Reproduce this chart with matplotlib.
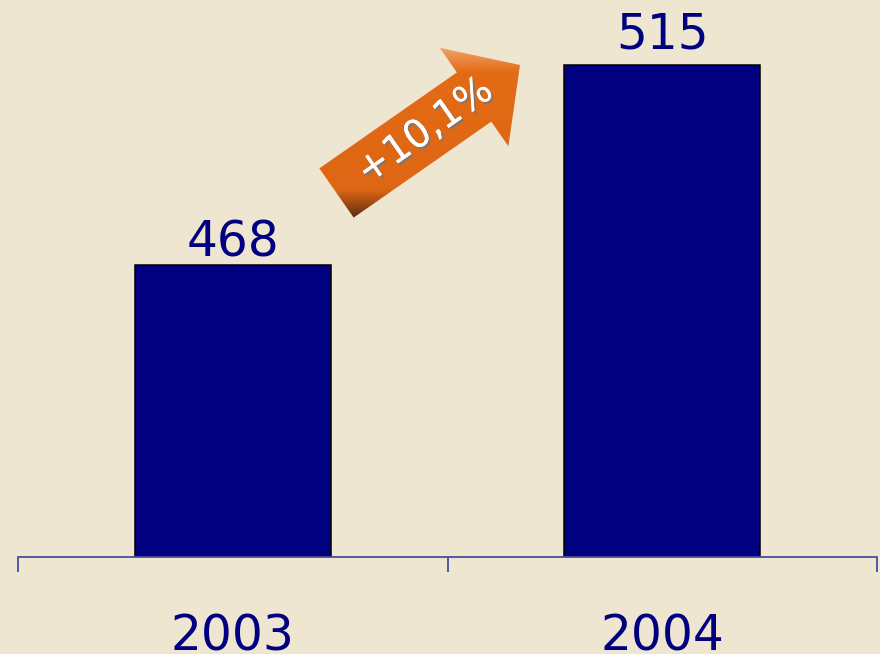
import matplotlib
matplotlib.use('Agg')
import matplotlib.pyplot as plt
import matplotlib.patheffects as pe
from matplotlib.patches import Polygon
import numpy as np

# data
years = ['2003', '2004']
values = [468, 515]
growth_label = '+10,1%'

bg = '#EFE6D1'
navy = '#000080'
axis_col = '#4B4BA0'

fig = plt.figure(figsize=(8.8, 6.54), dpi=100)
fig.set_facecolor(bg)

# main axes, baseline of chart is not zero
ax = fig.add_axes([18 / 880, 97 / 654, 859 / 880, 557 / 654])
ax.set_facecolor(bg)
x = np.arange(len(years)) + 0.5
ax.bar(x, values, width=0.456, color=navy, edgecolor='black', linewidth=1.1)
ax.set_xlim(0, len(years))
ax.set_ylim(399.4, 530.3)

for s in ['top', 'left', 'right']:
    ax.spines[s].set_visible(False)
ax.spines['bottom'].set_color(axis_col)
ax.spines['bottom'].set_linewidth(1.3)
ax.set_yticks([])
ax.set_xticks(np.arange(len(years) + 1))
ax.set_xticklabels([])
ax.tick_params(axis='x', length=11, width=1.3, color=axis_col, direction='out')

# value labels above bars
label_pad = [6, 12]
for xi, v, p in zip(x, values, label_pad):
    ax.annotate(str(v), (xi, v), xytext=(0, p), textcoords='offset points',
                ha='center', va='baseline', fontsize=35, color=navy)

# year labels under axis
for xi, yr in zip(x, years):
    ax.text(xi, -0.167, yr, transform=ax.get_xaxis_transform(), ha='center',
            va='baseline', fontsize=35, color=navy, clip_on=False)

# overlay in pixel coords for the growth arrow
ov = fig.add_axes([0, 0, 1, 1], zorder=5)
ov.set_xlim(0, 880)
ov.set_ylim(654, 0)
ov.axis('off')
ov.patch.set_alpha(0)

tail = np.array([336.5, 193.0])
tip = np.array([520.0, 65.0])
u = (tip - tail) / np.linalg.norm(tip - tail)
n = np.array([-u[1], u[0]])
shaft_hw, head_hw, head_len = 30, 60, 56
neck = tip - u * head_len
pts = [tail - n * shaft_hw, neck - n * shaft_hw, neck - n * head_hw, tip,
       neck + n * head_hw, neck + n * shaft_hw, tail + n * shaft_hw]
arrow = Polygon(pts, closed=True, facecolor='none', edgecolor='none')
ov.add_patch(arrow)

# vertical gradient: light peach at top, orange body, dark brown at tail bottom
ys = np.linspace(40, 225, 200)
stops_y = [40, 72, 190, 222]
stops_c = np.array([[0.96, 0.70, 0.52], [0.89, 0.42, 0.08],
                    [0.87, 0.40, 0.08], [0.28, 0.15, 0.06]])
grad = np.stack([np.interp(ys, stops_y, stops_c[:, k]) for k in range(3)], axis=-1)
img = ov.imshow(grad[:, None, :], extent=(300, 540, 225, 40), aspect='auto',
                interpolation='bilinear')
img.set_clip_path(arrow)
ov.set_xlim(0, 880)
ov.set_ylim(654, 0)

ov.text(425, 131, growth_label, rotation=35, rotation_mode='anchor',
        ha='center', va='center', color='white', fontsize=28,
        path_effects=[pe.withSimplePatchShadow(offset=(1.5, -1.5),
                                               shadow_rgbFace='#777777', alpha=0.8),
                      pe.Normal()])

fig.savefig('out.png', dpi=100, facecolor=bg)
